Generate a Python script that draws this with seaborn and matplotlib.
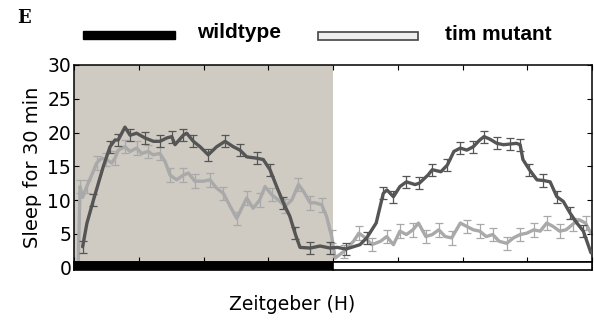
import numpy as np
import pandas as pd
import matplotlib
matplotlib.use("Agg")
import matplotlib.pyplot as plt
from matplotlib.patches import Rectangle
import seaborn as sns

# ---------------- data ----------------
wt_t = [0.4, 0.6, 0.9, 1.36, 1.67, 1.9, 2.05, 2.36, 2.6, 2.9, 3.29, 3.68, 3.98, 4.3, 4.53,
        4.68, 5.06, 5.22, 5.53, 5.84, 6.22, 6.61, 7.0, 7.38, 7.69, 8.0, 8.47, 8.77, 9.08,
        9.39, 9.7, 10.0, 10.24, 10.47, 10.94, 11.4, 11.86, 12.2, 12.6, 13.25, 13.56, 14.0,
        14.33, 14.5, 14.8, 15.1, 15.4, 15.8, 16.0, 16.4, 16.6, 17.0, 17.3, 17.6, 17.9, 18.2,
        18.5, 18.8, 19.0, 19.28, 19.59, 19.9, 20.2, 20.5, 20.67, 20.8, 21.1, 21.45, 21.75,
        22.06, 22.37, 22.67, 22.98, 23.3, 23.6, 23.95]
wt_v = [3.1, 6.6, 10.0, 15.0, 17.9, 18.9, 18.9, 20.8, 19.6, 19.9, 19.2, 18.7, 18.7, 19.2, 19.4,
        18.2, 19.6, 19.9, 18.7, 17.9, 16.7, 17.9, 18.7, 17.9, 17.4, 16.4, 16.2, 16.0, 14.5,
        12.0, 9.6, 7.6, 5.1, 3.0, 2.9, 3.2, 2.9, 3.0, 2.75, 3.4, 4.4, 6.6,
        11.0, 11.5, 10.5, 12.0, 12.7, 12.3, 12.5, 13.7, 14.5, 14.2, 15.2, 17.2, 17.7, 17.4,
        17.9, 18.9, 19.4, 19.0, 18.4, 18.2, 18.3, 18.4, 18.2, 16.0, 14.5, 13.0, 12.9,
        12.7, 10.5, 9.8, 8.1, 6.6, 5.4, 2.2]
wt_sem = 0.9

mt_t = [0.2, 0.28, 0.4, 0.59, 0.82, 1.05, 1.28, 1.5, 1.75, 1.9, 2.05, 2.36, 2.6, 2.9, 3.13,
        3.44, 3.67, 3.98, 4.22, 4.45, 4.76, 5.06, 5.3, 5.6, 6.0, 6.3, 6.6, 6.92, 7.23, 7.54,
        7.77, 8.0, 8.3, 8.6, 8.85, 9.16, 9.47, 9.78, 10.09, 10.4, 10.63, 10.94, 11.17, 11.48,
        11.7, 11.94, 12.1, 12.5, 12.95, 13.2, 13.5, 13.8, 14.2, 14.49, 14.8, 15.1, 15.4, 15.7,
        15.96, 16.3, 16.6, 16.9, 17.2, 17.5, 17.9, 18.2, 18.5, 18.8, 19.1, 19.4, 19.7, 20.05,
        20.36, 20.67, 20.98, 21.3, 21.6, 21.9, 22.2, 22.5, 22.8, 23.1, 23.4, 23.7, 23.95]
mt_v = [1.0, 12.0, 10.4, 12.0, 13.7, 15.5, 16.2, 16.0, 15.5, 16.2, 17.4, 17.9, 17.2, 17.7, 16.9,
        17.2, 16.7, 16.9, 15.7, 13.7, 13.0, 13.7, 14.0, 12.8, 12.8, 13.0, 11.8, 11.0, 9.1, 7.3,
        8.8, 10.3, 8.8, 10.0, 12.0, 10.8, 10.0, 9.1, 10.0, 12.3, 11.3, 9.6, 9.6, 9.3,
        7.6, 4.6, 1.4, 2.4, 3.9, 5.1, 4.4, 3.4, 3.9, 4.6, 3.4, 5.4, 4.9, 5.6,
        6.6, 4.6, 4.9, 5.6, 4.6, 4.4, 6.6, 6.1, 5.6, 5.4, 4.6, 4.9, 3.9, 3.6,
        4.4, 4.9, 5.1, 5.6, 5.4, 6.6, 6.1, 5.4, 5.6, 6.4, 7.1, 6.6, 5.1]
mt_sem = 1.0

series_names = ["wildtype", "tim mutant"]
yticks = [0, 5, 10, 15, 20, 25, 30]
xticks = [0, 3, 6, 9, 12, 15, 18, 21, 24]
light_dark = [(0, 12, "dark"), (12, 24, "light")]

# ---------------- styling ----------------
sns.set_theme(style="white")
plt.rcParams["font.family"] = ["DejaVu Sans"]

dark_col = "#555555"
light_col = "#a9a9a9"
shade_col = "#cfcbc3"

W, H = 594, 324
fig = plt.figure(figsize=(W / 100, H / 100), dpi=100)
ax = fig.add_axes([74 / W, 1 - 270 / H, (592 - 74) / W, (270 - 65) / H])

ymin, ybar = -0.35, 0.9
ax.set_xlim(0, 24)
ax.set_ylim(ymin, 30)

# dark-phase shading
for x0, x1, phase in light_dark:
    if phase == "dark":
        ax.add_patch(Rectangle((x0, ybar), x1 - x0, 30 - ybar, facecolor=shade_col,
                               edgecolor="none", zorder=0))

df = pd.concat([
    pd.DataFrame({"t": wt_t, "v": wt_v, "genotype": "wildtype"}),
    pd.DataFrame({"t": mt_t, "v": mt_v, "genotype": "tim mutant"}),
])

pal = {"wildtype": dark_col, "tim mutant": light_col}
# error bars
ax.errorbar(mt_t, mt_v, yerr=mt_sem, fmt="none", ecolor=light_col, elinewidth=0.9,
            capsize=3.2, capthick=0.9, errorevery=(1, 2), zorder=1.5)
ax.errorbar(wt_t, wt_v, yerr=wt_sem, fmt="none", ecolor=dark_col, elinewidth=0.9,
            capsize=3.2, capthick=0.9, errorevery=(0, 2), zorder=2.5)
sns.lineplot(data=df[df.genotype == "tim mutant"], x="t", y="v", color=light_col,
             linewidth=2.4, ax=ax, errorbar=None, sort=False, legend=False, zorder=2)
sns.lineplot(data=df[df.genotype == "wildtype"], x="t", y="v", color=dark_col,
             linewidth=2.4, ax=ax, errorbar=None, sort=False, legend=False, zorder=3)

# light/dark bar below the plot
for x0, x1, phase in light_dark:
    fc = "black" if phase == "dark" else "white"
    ax.add_patch(Rectangle((x0, ymin), x1 - x0, ybar - ymin, facecolor=fc,
                           edgecolor="black", linewidth=1.2, zorder=4, clip_on=False))

ax.spines["bottom"].set_position(("data", ybar))
for s in ax.spines.values():
    s.set_color("black")
    s.set_linewidth(1.1)
    s.set_visible(True)

ax.set_xticks(xticks)
ax.set_xticklabels([])
ax.set_yticks(yticks)
ax.tick_params(axis="both", direction="in", length=3.5, width=0.8, color="black",
               top=True, right=True, bottom=True, left=True)
ax.tick_params(axis="y", labelsize=13.5, pad=2, labelcolor="black")
ax.set_xlabel("")
ax.set_ylabel("Sleep for 30 min", fontsize=14, color="black", labelpad=4)

fig.text(292 / W, 1 - 304 / H, "Zeitgeber (H)", fontsize=13.5, ha="center", va="center",
         color="black")

# panel label and legend at the top
fig.text(17 / W, 1 - 18 / H, "E", fontsize=13, fontweight="bold", family="DejaVu Serif",
         ha="left", va="center", color="black")
fig.add_artist(Rectangle((83 / W, 1 - 39 / H), 92 / W, 8 / H, transform=fig.transFigure,
                         facecolor="black", edgecolor="black"))
fig.text(197 / W, 1 - 33 / H, series_names[0], fontsize=15, fontweight="bold",
         family="Liberation Sans", ha="left", va="center", color="black")
fig.add_artist(Rectangle((318 / W, 1 - 40 / H), 100 / W, 8 / H, transform=fig.transFigure,
                         facecolor="#eeeeee", edgecolor="#444444", linewidth=1.2))
fig.text(445 / W, 1 - 34 / H, series_names[1], fontsize=15, fontweight="bold",
         family="Liberation Sans", ha="left", va="center", color="black")

fig.savefig("out.png", dpi=100)
